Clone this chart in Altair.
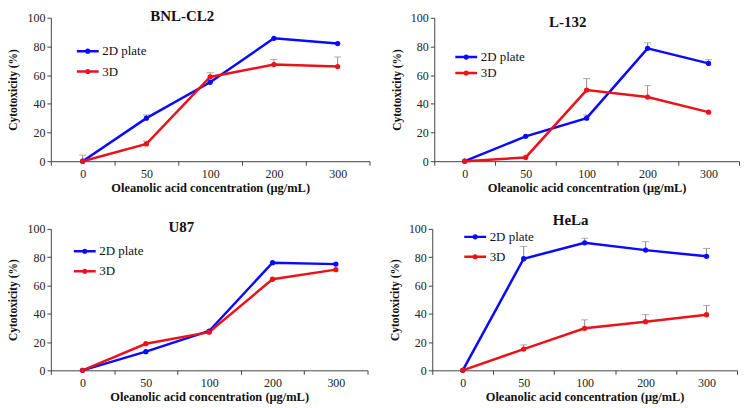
import altair as alt
import pandas as pd

concs = ["0", "50", "100", "200", "300"]
series_names = ["2D plate", "3D"]

titles = ["BNL-CL2", "L-132", "U87", "HeLa"]

# 2D plate values / errors, 3D values / errors per panel
bnl_2d = [0, 30, 55, 85.7, 82]
bnl_2d_err = [0, 2.3, 0, 0, 0]
bnl_3d = [0, 12, 58.7, 67.4, 66]
bnl_3d_err = [4.2, 2, 3, 3.5, 6.7]

l132_2d = [0, 17.3, 30, 78.7, 68.2]
l132_2d_err = [0, 0, 2.2, 3.8, 2.6]
l132_3d = [0, 2.6, 49.6, 44.7, 34.2]
l132_3d_err = [0, 0, 8, 8, 0]

u87_2d = [0, 13.2, 27.8, 76.1, 75.1]
u87_2d_err = [0, 0, 0, 0, 0]
u87_3d = [0, 18.8, 27, 64.4, 71.2]
u87_3d_err = [0, 0, 0, 0, 0]

hela_2d = [0, 78.9, 90.2, 85, 80.6]
hela_2d_err = [0, 8.7, 3.2, 6, 5.6]
hela_3d = [0, 15, 29.7, 34.4, 39.3]
hela_3d_err = [0, 3, 6, 5, 6.5]

panel_data = [
    (bnl_2d, bnl_2d_err, bnl_3d, bnl_3d_err),
    (l132_2d, l132_2d_err, l132_3d, l132_3d_err),
    (u87_2d, u87_2d_err, u87_3d, u87_3d_err),
    (hela_2d, hela_2d_err, hela_3d, hela_3d_err),
]

# layout per panel: width, height, title dx, title offset, legendX, legendY, rowPadding
layouts = [
    dict(w=320, h=144, tdx=-28, toff=-12, lx=30.6, ly=27, rp=6.5),
    dict(w=306, h=144, tdx=-19, toff=-18, lx=25.6, ly=33, rp=2),
    dict(w=318, h=142, tdx=-28, toff=-12, lx=27.6, ly=16, rp=6),
    dict(w=306, h=142, tdx=-14, toff=-5, lx=36.6, ly=1.5, rp=6),
]

FONT = "Liberation Serif"
BLUE = "#0a0aff"
RED = "#e8141a"

color_scale = alt.Scale(domain=series_names, range=[BLUE, RED])
SYMBOL = "M-2.5,0H2.5M-0.3,0A0.3,0.3,0,1,1,0.3,0A0.3,0.3,0,1,1,-0.3,0Z"


def make_panel(i):
    v2, e2, v3, e3 = panel_data[i]
    lay = layouts[i]
    rows = []
    for c, a, ea, b, eb in zip(concs, v2, e2, v3, e3):
        rows.append({"conc": c, "series": "2D plate", "value": a, "err": ea, "top": a + ea})
        rows.append({"conc": c, "series": "3D", "value": b, "err": eb, "top": b + eb})
    df = pd.DataFrame(rows)

    legend = alt.Legend(
        title=None,
        orient="none",
        legendX=lay["lx"],
        legendY=lay["ly"],
        symbolType=SYMBOL,
        symbolSize=77,
        symbolStrokeWidth=2.5,
        labelFont=FONT,
        labelFontSize=13,
        labelColor="#111",
        labelOffset=8,
        rowPadding=lay["rp"],
        padding=0,
    )

    x = alt.X(
        "conc:O",
        sort=concs,
        scale=alt.Scale(paddingInner=0, paddingOuter=0),
        axis=alt.Axis(
            title="Oleanolic acid concentration  (\u03bcg/mL)",
            labelAngle=0,
            tickBand="extent",
            tickSize=4,
            labelPadding=3,
            titlePadding=2,
            titleFontSize=12.5,
        ),
    )
    y_axis = alt.Axis(
        title="Cytotoxicity (%)",
        values=[0, 20, 40, 60, 80, 100],
        tickSize=4,
        labelPadding=2,
        titlePadding=8,
        titleFontSize=11.5,
        grid=False,
    )
    y = alt.Y("value:Q", scale=alt.Scale(domain=[0, 100], nice=False), axis=y_axis)

    base = alt.Chart(df)
    errdf = base.transform_filter("datum.err > 0")
    rules = errdf.mark_rule(color="#8c8c8c", strokeWidth=1).encode(
        x=x, y=y, y2="top:Q"
    )
    caps = errdf.mark_tick(color="#8c8c8c", thickness=1, size=7).encode(
        x=x, y=alt.Y("top:Q", scale=alt.Scale(domain=[0, 100], nice=False), axis=y_axis)
    )
    line = base.mark_line(strokeWidth=2.5).encode(
        x=x, y=y, color=alt.Color("series:N", scale=color_scale, legend=legend)
    )
    pts = base.mark_point(filled=True, size=28, opacity=1).encode(
        x=x, y=y, color=alt.Color("series:N", scale=color_scale, legend=None)
    )
    return alt.layer(rules, caps, line, pts).properties(
        width=lay["w"],
        height=lay["h"],
        title=alt.TitleParams(
            titles[i],
            font=FONT,
            fontSize=15,
            fontWeight="bold",
            color="#111",
            anchor="middle",
            frame="group",
            dx=lay["tdx"],
            offset=lay["toff"],
        ),
    )


row1 = alt.hconcat(make_panel(0), make_panel(1), spacing=21).resolve_legend(color="independent")
row2 = alt.hconcat(make_panel(2), make_panel(3), spacing=21).resolve_legend(color="independent")
chart = (
    alt.vconcat(row1, row2, spacing=19)
    .resolve_legend(color="independent")
    .properties(padding=0)
    .configure_view(stroke=None)
    .configure_legend(labelFont=FONT, labelFontSize=13, labelColor="#111")
    .configure_axis(
        labelFont=FONT,
        labelFontSize=12,
        labelColor="#222",
        titleFont=FONT,
        titleFontWeight="bold",
        titleColor="#111",
        domainColor="#444",
        tickColor="#444",
        domainWidth=1,
        tickWidth=1,
    )
)

chart.save("out.html", embed_options={"renderer": "svg", "actions": False})
